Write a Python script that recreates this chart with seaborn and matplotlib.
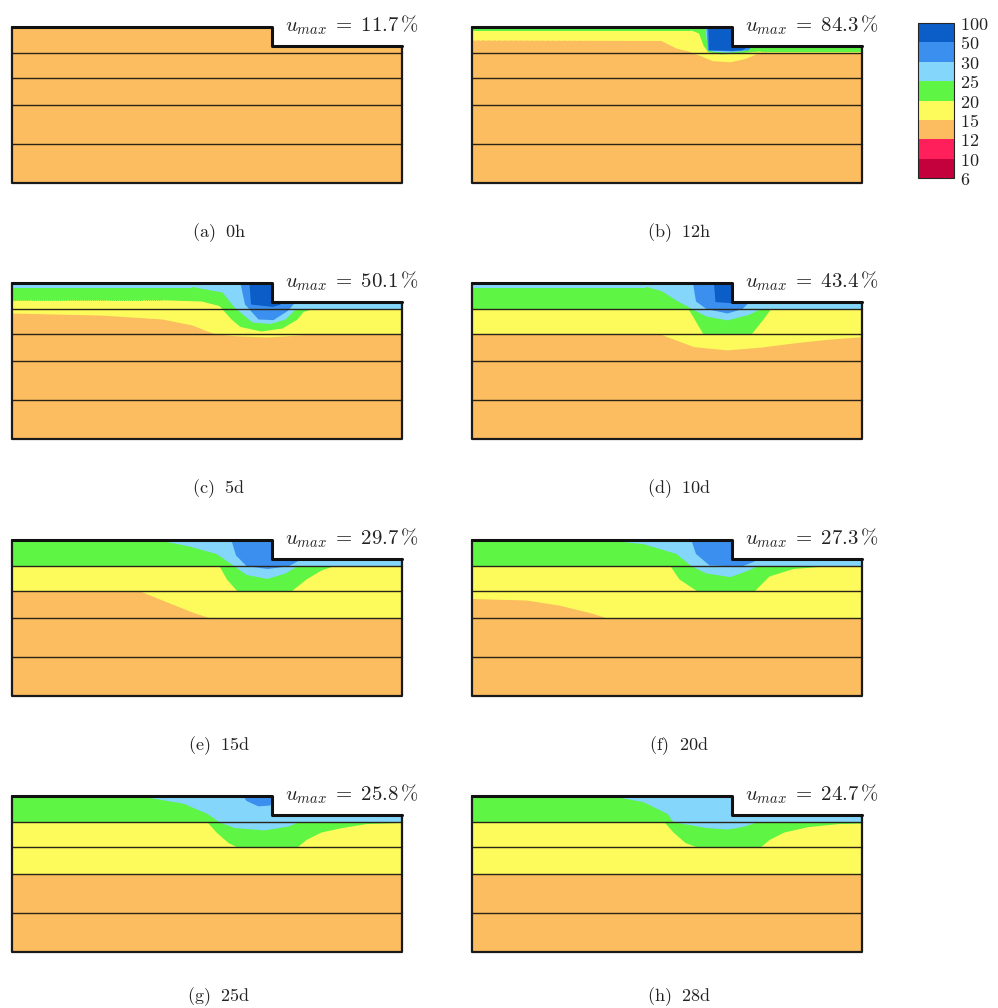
import numpy as np
import pandas as pd
import matplotlib
matplotlib.use("Agg")
import matplotlib.pyplot as plt
from matplotlib.patches import Polygon
from matplotlib.colors import ListedColormap, BoundaryNorm
import matplotlib.cm as cm
import seaborn as sns

sns.set_theme(style="white")
plt.rcParams['mathtext.fontset'] = 'cm'
plt.rcParams['font.family'] = ['DejaVu Serif']

# colour classes of the moisture content u [%]
levels = [6, 10, 12, 15, 20, 25, 30, 50, 100]
class_colors = ['#c4003d', '#ff1f5a', '#fbbd60', '#fdfb5c', '#5ef545',
                '#84d6fb', '#3b90ef', '#0b5ec8']

# section geometry [m]
width = 13.0
height = 5.2
step_x = 8.67
step_depth = 0.62
layer_depths = [0.86, 1.7, 2.6, 3.9]

captions = ['(a) 0h', '(b) 12h', '(c) 5d', '(d) 10d',
            '(e) 15d', '(f) 20d', '(g) 25d', '(h) 28d']
u_max = [11.7, 84.3, 50.1, 43.4, 29.7, 27.3, 25.8, 24.7]

# depth of the iso-lines u = 15, 20, 25, 30, 50 % under the top, as (x, depth)
iso_a = {}
iso_b = {
    15: ([0, 6.3, 6.8, 7.2, 7.6, 8.0, 8.6, 9.1, 9.5, 9.8, 13],
         [0.43, 0.45, 0.7, 0.8, 0.95, 1.12, 1.16, 1.05, 0.88, 0.84, 0.84]),
    20: ([0, 7.3, 7.55, 7.7, 7.85, 8.3, 8.9, 9.3, 9.6, 13],
         [0.1, 0.1, 0.2, 0.6, 0.82, 0.9, 0.86, 0.82, 0.8, 0.8]),
    25: ([0, 7.75, 7.82, 7.95, 8.5, 9.1, 9.4, 13],
         [0, 0, 0.5, 0.8, 0.84, 0.78, 0.6, 0.6]),
    30: ([0, 7.8, 7.85, 8.67, 9.2, 9.35, 13],
         [0, 0, 0.77, 0.8, 0.76, 0.6, 0.6]),
    50: ([0, 7.86, 7.88, 8.67, 9.0, 9.25, 13],
         [0, 0, 0.76, 0.78, 0.76, 0.6, 0.6]),
}
iso_c = {
    15: ([0, 3, 5, 6, 6.5, 6.8, 7.5, 8.5, 9.3, 10, 13],
         [1.0, 1.07, 1.2, 1.4, 1.6, 1.7, 1.76, 1.8, 1.75, 1.7, 1.7]),
    20: ([0, 5, 6.3, 6.9, 7.3, 7.6, 8.3, 9.0, 9.5, 9.7, 10, 13],
         [0.57, 0.56, 0.6, 0.75, 1.2, 1.45, 1.6, 1.5, 1.2, 0.95, 0.86, 0.86]),
    25: ([0, 6.0, 7.0, 7.4, 7.7, 8.0, 8.6, 9.1, 9.4, 9.6, 13],
         [0.12, 0.12, 0.3, 0.8, 1.05, 1.3, 1.35, 1.2, 0.9, 0.86, 0.86]),
    30: ([0, 7.6, 7.75, 8.2, 8.7, 9.2, 9.45, 13],
         [0, 0, 0.7, 1.2, 1.22, 0.9, 0.6, 0.6]),
    50: ([0, 7.9, 7.95, 8.67, 8.9, 9.05, 13],
         [0, 0, 0.7, 0.78, 0.72, 0.6, 0.6]),
}
iso_d = {
    15: ([0, 6.27, 7.38, 8.49, 9.6, 10.7, 11.8, 13],
         [1.7, 1.7, 2.12, 2.23, 2.14, 2.0, 1.88, 1.79]),
    20: ([0, 7.2, 7.35, 7.7, 9.3, 9.7, 9.95, 13],
         [0.86, 0.86, 1.1, 1.7, 1.7, 1.2, 0.86, 0.86]),
    25: ([0, 5.8, 6.3, 6.8, 7.4, 7.8, 8.5, 9.2, 9.6, 13],
         [0.12, 0.12, 0.25, 0.57, 0.9, 1.1, 1.23, 1.05, 0.86, 0.86]),
    30: ([0, 7.35, 7.45, 7.8, 8.5, 9.0, 9.25, 13],
         [0, 0, 0.6, 0.85, 1.0, 0.85, 0.6, 0.6]),
    50: ([0, 8.05, 8.1, 8.67, 8.75, 13],
         [0, 0, 0.62, 0.66, 0.6, 0.6]),
}
iso_e = {
    15: ([0, 4.27, 5.0, 6.0, 6.6, 13],
         [1.7, 1.7, 2.0, 2.4, 2.6, 2.6]),
    20: ([0, 6.9, 7.15, 7.5, 9.3, 9.8, 10.3, 10.7, 13],
         [0.86, 0.86, 1.3, 1.7, 1.7, 1.3, 1.0, 0.86, 0.86]),
    25: ([0, 4.9, 5.9, 6.8, 7.4, 7.8, 8.5, 9.1, 9.5, 13],
         [0, 0, 0.2, 0.45, 0.86, 1.15, 1.28, 1.1, 0.86, 0.86]),
    30: ([0, 7.3, 7.45, 7.8, 8.5, 9.2, 9.5, 9.6, 13],
         [0, 0, 0.5, 0.85, 0.95, 0.86, 0.7, 0.6, 0.6]),
}
iso_f = {
    15: ([0, 1.8, 2.9, 4.0, 4.5, 13],
         [1.95, 2.0, 2.17, 2.44, 2.6, 2.6]),
    20: ([0, 6.6, 6.9, 7.5, 9.4, 9.9, 10.7, 11.6, 13],
         [0.86, 0.86, 1.3, 1.7, 1.7, 1.2, 0.95, 0.88, 0.86]),
    25: ([0, 4.5, 5.7, 6.8, 7.3, 7.8, 8.6, 9.2, 9.5, 13],
         [0, 0, 0.12, 0.45, 0.86, 1.1, 1.22, 1.0, 0.86, 0.86]),
    30: ([0, 7.3, 7.45, 7.9, 8.67, 9.0, 9.4, 9.5, 13],
         [0, 0, 0.45, 0.83, 0.86, 0.86, 0.7, 0.6, 0.6]),
}
iso_g = {
    15: ([0, 13], [2.6, 2.6]),
    20: ([0, 6.5, 6.8, 7.2, 7.5, 9.5, 9.8, 10.3, 11.0, 11.8, 13],
         [0.86, 0.86, 1.2, 1.55, 1.7, 1.7, 1.45, 1.2, 1.05, 0.92, 0.88]),
    25: ([0, 4.3, 5.7, 6.5, 6.9, 7.4, 8.4, 9.2, 9.55, 13],
         [0, 0, 0.24, 0.58, 0.86, 1.05, 1.13, 1.0, 0.86, 0.86]),
    30: ([0, 7.7, 7.8, 8.2, 8.6, 8.67, 13],
         [0, 0, 0.15, 0.33, 0.3, 0, 0]),
}
iso_h = {
    15: ([0, 13], [2.6, 2.6]),
    20: ([0, 6.4, 6.7, 7.1, 7.5, 9.6, 9.9, 10.4, 11.2, 12.2, 13],
         [0.86, 0.86, 1.2, 1.55, 1.7, 1.7, 1.45, 1.2, 1.02, 0.92, 0.9]),
    25: ([0, 4.7, 5.7, 6.5, 6.7, 7.8, 8.5, 9.0, 9.5, 13],
         [0, 0, 0.19, 0.58, 0.86, 1.05, 1.1, 1.02, 0.86, 0.86]),
}
panels = [iso_a, iso_b, iso_c, iso_d, iso_e, iso_f, iso_g, iso_h]

W, H = 998, 1008
fig = plt.figure(figsize=(W / 100, H / 100), dpi=100)

row_tops = [27, 283, 540, 796]
col_lefts = [12, 472]
ppm = 30.0  # pixels per metre

domain = [(0, 0), (step_x, 0), (step_x, -step_depth), (width, -step_depth),
          (width, -height), (0, -height)]

for k, iso in enumerate(panels):
    left = col_lefts[k % 2]
    top = row_tops[k // 2]
    pad = 0.1
    ax = fig.add_axes([(left - pad * ppm) / W,
                       1 - (top + (height + pad) * ppm) / H,
                       (width + 2 * pad) * ppm / W,
                       (height + 2 * pad) * ppm / H])
    ax.set_xlim(-pad, width + pad)
    ax.set_ylim(-height - pad, pad)
    clip = Polygon(domain, closed=True, transform=ax.transData)

    # background class 12-15 %
    base = ax.fill_between([0, width], -height, 0, color=class_colors[2], lw=0)
    base.set_clip_path(clip)
    for lev in [15, 20, 25, 30, 50]:
        if lev not in iso:
            continue
        xs, ds = iso[lev]
        c = class_colors[levels.index(lev)]
        poly = ax.fill_between(xs, -np.array(ds), 0, color=c, lw=0)
        poly.set_clip_path(clip)

    for d in layer_depths:
        ax.plot([0, width], [-d, -d], color='#2a2418', lw=1.0)

    outline = pd.DataFrame({'x': [0, 0, width, width],
                            'y': [0, -height, -height, -step_depth]})
    sns.lineplot(data=outline, x='x', y='y', sort=False, estimator=None,
                 color='#1a1a1a', lw=1.6, ax=ax)
    top_line = pd.DataFrame({'x': [0, step_x, step_x, width],
                             'y': [0, 0, -step_depth, -step_depth]})
    sns.lineplot(data=top_line, x='x', y='y', sort=False, estimator=None,
                 color='#111111', lw=2.2, ax=ax)
    ax.axis('off')

    ax.text(13.55, 0.06, r'$u_{max}\;=\;%.1f\,\%%$' % u_max[k], ha='right',
            va='center', fontsize=15, color='#222222', clip_on=False)
    lab, t = captions[k].split(' ')
    cap_y = -6.68 if k >= 6 else -6.85
    ax.text(width / 2 + 0.4, cap_y, r'$\mathrm{%s}\ \ \mathrm{%s}$' % (lab, t),
            ha='center', va='center', fontsize=13, color='#222222',
            clip_on=False)

# colour scale
cax = fig.add_axes([918 / W, 1 - 178 / H, 36 / W, 155 / H])
cmap = ListedColormap(class_colors)
norm = BoundaryNorm(levels, cmap.N)
cb = fig.colorbar(cm.ScalarMappable(norm=norm, cmap=cmap), cax=cax,
                  spacing='uniform', ticks=levels)
cb.set_ticklabels([r'$%d$' % v for v in levels])
cb.ax.tick_params(length=0, labelsize=13, pad=4, colors='#222222')
cb.outline.set_linewidth(0.8)

fig.savefig('out.png', dpi=100)
